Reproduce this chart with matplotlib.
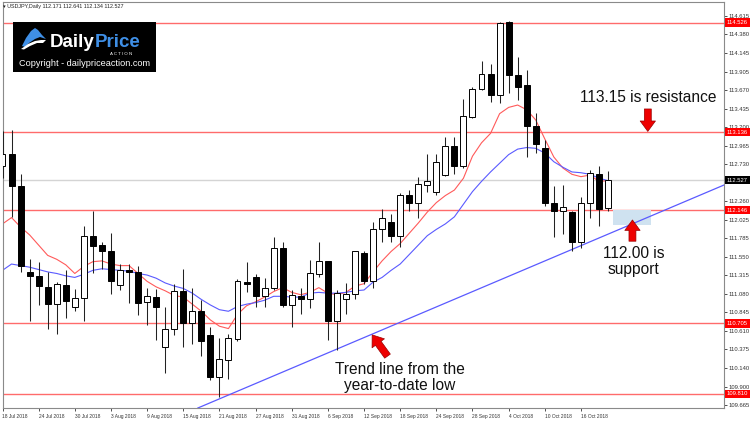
import matplotlib
matplotlib.use("Agg")
import matplotlib.pyplot as plt
import matplotlib.transforms as mtransforms
from matplotlib.patches import Polygon, Rectangle

# ---------------- data ----------------
title = "USDJPY,Daily 112.171 112.641 112.134 112.527"

opens = [112.70, 112.86, 112.45, 111.36, 111.31, 111.17, 110.95, 111.19, 110.91, 111.03,
         111.81, 111.70, 111.63, 111.19, 111.38, 111.36, 110.98, 111.04, 110.40, 110.64,
         111.12, 110.71, 110.86, 110.56, 110.03, 110.24, 110.51, 111.23, 111.29, 111.05,
         111.16, 111.66, 110.94, 111.05, 111.01, 111.33, 111.50, 110.73, 111.02, 111.08,
         111.60, 111.24, 111.90, 111.99, 111.82, 112.34, 112.24, 112.46, 112.37, 112.59,
         112.96, 112.70, 113.33, 113.69, 113.87, 113.61, 114.53, 113.86, 113.74, 113.21,
         112.94, 112.24, 112.13, 112.12, 111.74, 112.23, 112.61, 112.171]
highs = [113.15, 113.16, 112.61, 111.52, 111.49, 111.36, 111.23, 111.38, 111.14, 111.94,
         112.14, 111.74, 111.85, 111.46, 111.46, 111.43, 111.16, 111.14, 110.91, 111.20,
         111.40, 111.16, 111.00, 110.66, 110.52, 110.57, 111.27, 111.48, 111.33, 111.28,
         111.80, 111.74, 111.13, 111.16, 111.51, 111.74, 111.50, 111.13, 111.22, 111.62,
         111.62, 112.00, 112.16, 112.10, 112.36, 112.40, 112.57, 112.86, 112.86, 113.08,
         113.08, 113.56, 113.71, 114.04, 114.00, 114.53, 114.55, 114.09, 113.93, 113.38,
         113.04, 112.45, 112.46, 112.14, 112.31, 112.66, 112.71, 112.641]
lows = [112.55, 112.06, 111.36, 110.73, 110.94, 110.64, 110.57, 110.77, 110.86, 110.73,
        111.34, 111.40, 111.08, 111.13, 110.97, 110.81, 110.69, 110.49, 110.08, 110.56,
        110.41, 110.44, 110.29, 109.99, 109.77, 110.00, 110.48, 111.10, 110.92, 110.92,
        111.13, 110.92, 110.66, 110.83, 110.90, 111.30, 110.49, 110.37, 110.83, 111.02,
        111.21, 111.15, 111.74, 111.74, 111.68, 112.14, 112.04, 112.37, 112.34, 112.58,
        112.61, 112.68, 113.31, 113.67, 113.52, 113.50, 113.63, 113.54, 112.82, 112.87,
        112.20, 111.80, 111.84, 111.62, 111.66, 112.05, 111.94, 112.134]
closes = [112.86, 112.45, 111.44, 111.31, 111.18, 110.95, 111.20, 110.99, 111.03, 111.81,
          111.69, 111.63, 111.24, 111.38, 111.36, 110.96, 111.06, 110.91, 110.64, 111.12,
          110.71, 110.86, 110.48, 110.03, 110.25, 110.52, 111.24, 111.21, 111.05, 111.16,
          111.66, 110.94, 111.07, 111.02, 111.34, 111.50, 110.73, 111.09, 111.08, 111.62,
          111.24, 111.90, 112.04, 111.82, 112.34, 112.24, 112.48, 112.52, 112.76, 112.96,
          112.70, 113.34, 113.68, 113.88, 113.61, 114.52, 113.86, 113.71, 113.21, 112.99,
          112.24, 112.13, 112.19, 111.74, 112.23, 112.62, 112.16, 112.527]

ma_fast = [111.97, 112.05, 111.93, 111.83, 111.70, 111.57, 111.52, 111.45, 111.34, 111.43,
           111.49, 111.50, 111.46, 111.44, 111.44, 111.34, 111.24, 111.17, 111.12, 111.06,
           111.04, 110.95, 110.86, 110.75, 110.67, 110.64, 110.82, 110.93, 110.98, 111.04,
           111.11, 111.16, 111.10, 111.07, 111.10, 111.16, 111.09, 111.07, 111.10, 111.18,
           111.21, 111.36, 111.50, 111.62, 111.72, 111.85, 111.98, 112.12, 112.24, 112.33,
           112.40, 112.55, 112.83, 113.00, 113.12, 113.37, 113.45, 113.48, 113.42, 113.29,
           113.05, 112.82, 112.68, 112.60, 112.57, 112.59, 112.51, 112.52]
ma_slow = [111.38, 111.46, 111.44, 111.42, 111.39, 111.36, 111.34, 111.31, 111.29, 111.33,
           111.38, 111.40, 111.39, 111.38, 111.37, 111.34, 111.32, 111.28, 111.22, 111.18,
           111.15, 111.09, 111.01, 110.94, 110.88, 110.86, 110.92, 110.95, 110.97, 111.00,
           111.05, 111.05, 111.04, 111.04, 111.09, 111.10, 111.09, 111.09, 111.10, 111.12,
           111.13, 111.23, 111.29, 111.38, 111.46, 111.58, 111.70, 111.82, 111.90, 111.97,
           112.06, 112.22, 112.38, 112.51, 112.63, 112.74, 112.85, 112.92, 112.94, 112.93,
           112.87, 112.76, 112.69, 112.63, 112.62, 112.60, 112.55, 112.52]

tick_labels = ["18 Jul 2018", "24 Jul 2018", "30 Jul 2018", "3 Aug 2018", "9 Aug 2018",
               "15 Aug 2018", "21 Aug 2018", "27 Aug 2018", "31 Aug 2018", "6 Sep 2018",
               "12 Sep 2018", "18 Sep 2018", "24 Sep 2018", "28 Sep 2018", "4 Oct 2018",
               "10 Oct 2018", "16 Oct 2018"]
price_ticks = [114.615, 114.380, 114.145, 113.905, 113.670, 113.435, 113.200, 112.965,
               112.730, 112.260, 112.025, 111.785, 111.550, 111.315, 111.080,
               110.845, 110.610, 110.375, 110.140, 109.900, 109.665]
level_lines = [114.526, 113.136, 112.146, 110.705, 109.810]
current_price = 112.527
trend_x = [24, 79.83]
trend_y = [109.747, 112.464]
zone_x = [67.6, 71.7]
zone_y = [111.955, 112.146]

# ---------------- figure ----------------
W, H = 750, 421
fig = plt.figure(figsize=(W / 100, H / 100), dpi=100)
ax = fig.add_axes([2.5 / W, 1 - 408 / H, (724 - 2.5) / W, 406 / H])
ax.set_xlim(0.11, 79.83)
ax.set_ylim(109.631, 114.789)

n = len(opens)
idx = list(range(n))

# horizontal levels
for lv in level_lines:
    ax.axhline(lv, color="#ff6b6b", lw=1.0, zorder=1)
ax.axhline(current_price, color="#d4d4d4", lw=1.0, zorder=1)

# support zone
ax.add_patch(Rectangle((zone_x[0], zone_y[0]), zone_x[1] - zone_x[0], zone_y[1] - zone_y[0],
                       facecolor="#cfe2f0", edgecolor="none", zorder=1.5))

# trend line
ax.axline((trend_x[0], trend_y[0]), (trend_x[1], trend_y[1]), color="#5a5aff", lw=0.9, zorder=2)

# moving averages
ax.plot(idx, ma_fast, color="#ff5a5a", lw=0.8, zorder=2.5)
ax.plot(idx, ma_slow, color="#5a5aff", lw=0.8, zorder=2.5)

# candles
ax.vlines(idx, lows, highs, color="#222222", lw=0.75, zorder=3)
bottoms = [min(o, c) for o, c in zip(opens, closes)]
heights = [abs(c - o) for o, c in zip(opens, closes)]
colors = ["white" if c >= o else "black" for o, c in zip(opens, closes)]
ax.bar(idx, heights, bottom=bottoms, width=0.66, color=colors, edgecolor="black",
       linewidth=0.7, zorder=4)

# spines
for s in ax.spines.values():
    s.set_color("#8a8a8a")
    s.set_linewidth(0.8)

# y axis on right
ax.yaxis.tick_right()
ax.set_yticks(price_ticks)
ax.set_yticklabels([f"{v:.3f}" for v in price_ticks], family="Liberation Sans")
ax.tick_params(axis="y", length=2, width=0.6, pad=1.5, labelsize=4.2, colors="#333333")

# x axis
ax.set_xticks(idx[::4])
ax.set_xticklabels(tick_labels, family="Liberation Sans", ha="left")
ax.tick_params(axis="x", length=2.5, width=0.6, pad=1.5, labelsize=3.5, colors="#333333")

# price boxes on axis
btrans = mtransforms.blended_transform_factory(ax.transAxes, ax.transData)
for lv in level_lines:
    ax.text(1.004, lv, f"{lv:.3f}", transform=btrans, ha="left", va="center",
            fontsize=4.2, family="Liberation Sans", color="white", clip_on=False,
            bbox=dict(boxstyle="square,pad=0.3", fc="#ff0000", ec="none"), zorder=10)
ax.text(1.004, current_price, f"{current_price:.3f}", transform=btrans, ha="left",
        va="center", fontsize=4.2, family="Liberation Sans", color="white", clip_on=False,
        bbox=dict(boxstyle="square,pad=0.3", fc="black", ec="none"), zorder=10)

# title
fig.text(3 / W, 1 - 6.5 / H, "\u25be " + title, fontsize=3.9,
         family=["Liberation Sans", "DejaVu Sans"], va="center", ha="left", color="#222222")

# annotation texts
font = dict(family="Liberation Sans", color="#111111", fontsize=11.2)
ax.text(71.4, 113.57, "113.15 is resistance", ha="center", va="center", **font)
ax.text(69.8, 111.49, "112.00 is\nsupport", ha="center", va="center", linespacing=1.05, **font)
ax.text(44.0, 110.02, "Trend line from the\nyear-to-date low", ha="center", va="center",
        linespacing=1.05, **font)

# arrows
arrow_style = "simple,head_width=1.1,head_length=0.75,tail_width=0.5"
def red_arrow(tip, tail):
    ax.annotate("", xy=tip, xytext=tail,
                arrowprops=dict(arrowstyle=arrow_style, fc="#ee0000", ec="#990000", lw=0.5,
                                shrinkA=0, shrinkB=0, mutation_scale=10), zorder=6)
red_arrow((71.4, 113.145), (71.4, 113.43))
red_arrow((69.7, 112.02), (69.7, 111.75))
red_arrow((40.9, 110.56), (42.6, 110.29))

# logo
lax = fig.add_axes([13 / W, 1 - 72.3 / H, 143 / W, 50.3 / H])
lax.set_xlim(0, 143)
lax.set_ylim(50.3, 0)
lax.set_facecolor("black")
for s in lax.spines.values():
    s.set_visible(False)
lax.set_xticks([])
lax.set_yticks([])
lax.add_patch(Polygon([(9, 24), (13, 16), (18, 9), (22, 6), (25, 8), (29, 13), (33, 17),
                       (27, 15), (22, 17), (16, 21), (12, 25)], closed=True,
                      fc="#3f8fe6", ec="none"))
lax.add_patch(Polygon([(8, 27), (15, 22), (22, 19), (28, 18), (33, 18), (30, 21),
                       (24, 21), (17, 24), (11, 27.5)], closed=True, fc="white", ec="none"))
lax.text(37, 25, "Daily", color="white", fontsize=13.5, fontweight="bold",
         family="Liberation Sans", ha="left", va="baseline")
lax.text(82, 25, "Price", color="#3f8fe6", fontsize=13.5, fontweight="bold",
         family="Liberation Sans", ha="left", va="baseline")
lax.text(108, 31.6, "A C T I O N", color="white", fontsize=3.2, family="Liberation Sans",
         ha="center", va="center")
lax.text(71.5, 42, "Copyright - dailypriceaction.com", color="white", fontsize=6.6,
         family="Liberation Sans", ha="center", va="center")

fig.savefig("out.png", dpi=100, facecolor="white")
